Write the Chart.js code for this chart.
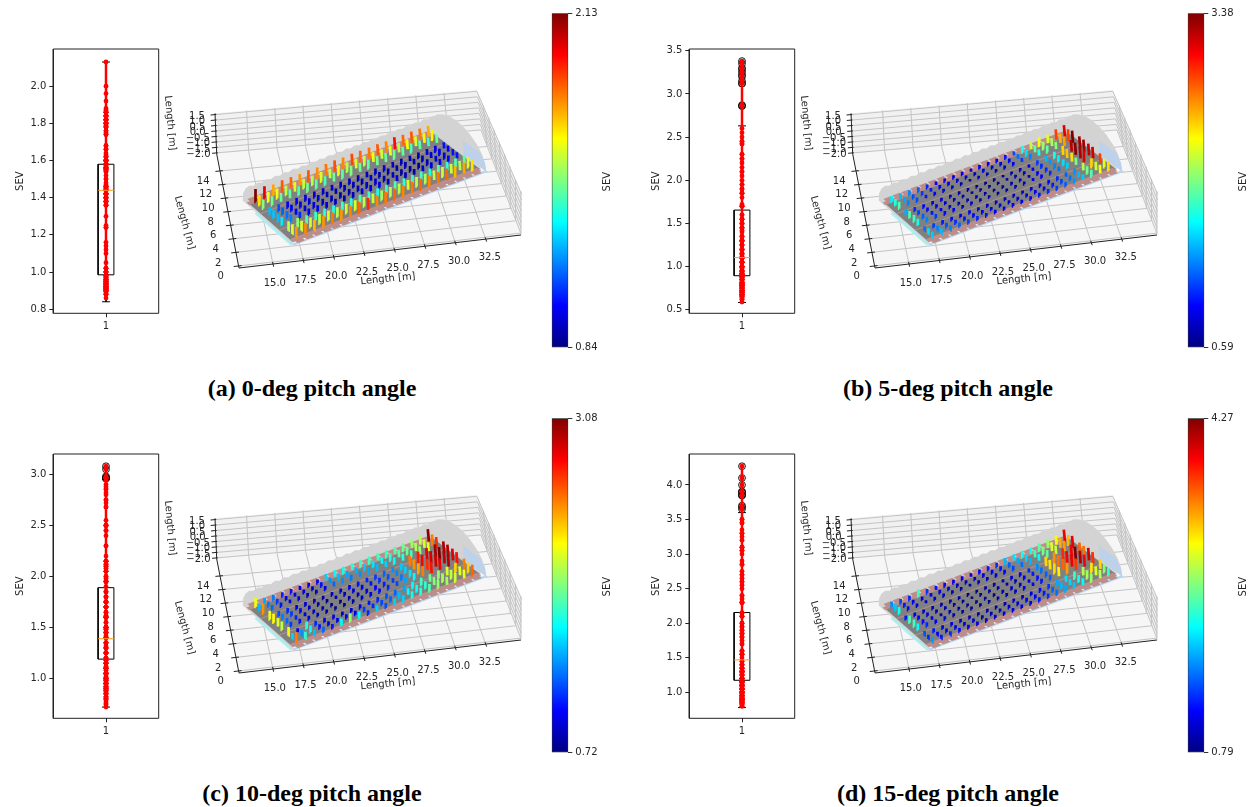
<!DOCTYPE html>
<html>
<head>
<meta charset="utf-8">
<title>SEV by pitch angle</title>
<script src="https://cdn.jsdelivr.net/npm/chart.js@4/dist/chart.umd.js"></script>
<style>
  html, body { margin: 0; background: #fff; }
  #page { position: relative; width: 1250px; height: 807px; overflow: hidden; }
  canvas { position: absolute; filter: blur(0.45px); }
  .caption { position: absolute; width: 400px; text-align: center; font: bold 24px "Liberation Serif", serif; line-height: 28px; color: #000; }
</style>
</head>
<body>
<div id="page"></div>
<script>
  // seat SEV values, row 0 = back row, 21 seat columns each
  const sevA = [
    [2.13,2.00,1.76,1.86,1.84,1.78,1.86,1.79,1.82,1.87,1.80,1.88,1.84,1.82,1.86,1.80,1.96,1.84,1.86,1.82,1.75],
    [1.68,1.63,1.62,1.56,1.60,1.58,1.55,1.60,1.57,1.62,1.55,1.60,1.57,1.62,1.58,1.62,1.55,1.64,1.60,1.66,1.66],
    [1.50,1.46,1.45,1.44,1.42,1.46,1.44,1.42,1.46,1.44,1.48,1.46,1.44,1.47,1.45,1.46,1.44,1.42,1.44,1.40,1.46],
    [1.24,1.10,0.98,1.00,0.97,0.95,0.93,0.94,0.93,0.92,0.90,0.92,0.93,0.94,0.93,0.92,0.90,0.91,0.94,0.97,1.02],
    [1.25,1.12,1.00,0.97,0.94,0.93,0.91,0.90,0.92,0.90,0.91,0.92,0.90,0.91,0.89,0.90,0.91,0.92,0.95,0.98,1.00],
    [1.24,1.14,1.00,0.95,0.96,0.94,0.90,0.88,0.90,0.91,0.94,0.95,0.90,0.93,0.88,0.86,0.88,0.91,0.94,0.96,1.02],
    [1.30,1.16,1.05,1.00,0.98,0.95,0.92,0.90,0.92,0.96,0.98,0.96,0.93,0.96,0.92,0.90,0.94,0.95,0.98,1.00,1.02],
    [1.56,1.50,1.42,1.40,1.38,1.36,1.40,1.38,1.42,1.40,1.36,1.38,1.42,1.38,1.40,1.40,1.36,1.42,1.38,1.42,1.44],
    [1.60,1.60,1.58,1.56,1.60,1.55,1.58,1.60,1.56,1.58,1.52,1.55,1.56,1.60,1.56,1.54,1.56,1.58,1.58,1.54,1.60],
    [1.78,1.80,1.74,1.78,1.82,1.78,1.80,1.84,1.92,1.80,1.82,1.84,1.80,1.82,1.84,1.80,1.82,1.84,1.74,1.76,1.68]
  ];
  const sevB = [
    [1.60,1.45,1.30,1.20,1.05,0.95,0.88,0.85,0.90,0.85,0.92,0.85,0.90,1.00,1.15,1.70,2.15,2.30,2.25,2.86,3.12],
    [1.72,1.40,1.15,1.10,1.00,0.92,0.85,0.78,0.80,0.75,0.82,0.78,0.88,0.95,1.25,1.55,1.90,2.05,2.10,2.55,2.86],
    [1.85,1.30,1.15,1.00,0.90,0.80,0.78,0.72,0.70,0.72,0.70,0.72,0.80,0.90,1.10,1.30,1.70,1.90,2.00,2.60,3.38],
    [1.42,1.05,0.92,0.85,0.80,0.74,0.72,0.70,0.66,0.62,0.64,0.66,0.72,0.78,0.90,1.10,1.45,1.70,2.45,3.22,3.30],
    [1.85,1.10,0.95,0.85,0.78,0.72,0.72,0.68,0.66,0.59,0.62,0.68,0.70,0.76,0.88,1.05,1.35,1.60,2.50,3.35,3.28],
    [1.80,1.20,1.00,0.90,0.80,0.76,0.72,0.68,0.66,0.64,0.66,0.70,0.72,0.78,0.90,1.05,1.30,1.55,2.42,3.25,3.20],
    [1.70,1.30,1.10,0.95,0.85,0.78,0.76,0.72,0.68,0.66,0.68,0.72,0.75,0.82,0.92,1.05,1.25,1.50,1.95,3.12,3.15],
    [1.25,1.10,1.00,0.95,0.88,0.85,0.80,0.78,0.74,0.72,0.74,0.76,0.80,0.85,0.95,1.05,1.20,1.35,2.10,2.45,2.87],
    [1.55,1.30,1.15,1.05,0.98,0.92,0.88,0.82,0.80,0.78,0.80,0.82,0.88,0.92,1.00,1.12,1.25,1.45,1.95,2.20,2.25],
    [1.50,1.45,1.30,1.20,1.10,1.05,1.00,0.92,0.90,0.88,0.90,0.95,1.00,1.05,1.10,1.20,1.35,1.50,1.85,2.30,2.42]
  ];
  const sevC = [
    [2.15,1.40,1.30,1.10,1.05,1.00,0.95,0.95,1.50,1.60,1.65,1.70,1.75,1.75,1.75,1.75,1.80,1.85,1.95,2.05,3.05],
    [1.45,1.30,1.15,1.00,0.98,0.92,0.90,1.05,1.35,1.45,1.40,1.42,1.48,1.55,1.60,1.70,1.80,1.85,2.00,2.10,2.50],
    [2.45,1.25,1.05,0.95,0.92,0.88,0.85,0.95,1.25,1.35,1.30,1.35,1.40,1.45,1.50,1.60,1.70,1.75,1.95,2.15,2.68],
    [2.15,1.20,1.10,0.98,0.90,0.85,0.82,0.86,0.90,0.98,1.05,1.10,1.15,1.25,1.35,1.48,2.50,2.72,2.85,2.98,2.97],
    [2.20,1.30,1.15,1.00,0.88,0.82,0.78,0.80,0.85,0.92,1.00,1.05,1.12,1.20,1.32,1.50,2.45,2.80,2.88,3.08,2.96],
    [2.12,1.25,1.10,0.95,0.85,0.80,0.76,0.75,0.80,0.88,0.95,1.00,1.08,1.15,1.30,1.55,2.40,2.68,2.90,2.94,2.86],
    [2.05,1.15,1.05,0.92,0.85,0.80,0.74,0.72,0.82,0.90,0.95,1.02,1.10,1.18,1.40,1.60,2.50,2.75,2.82,2.96,2.75],
    [2.15,1.00,1.70,1.10,0.98,0.95,0.88,0.90,1.00,1.05,1.10,1.20,1.25,1.40,1.60,1.75,1.85,1.95,2.10,2.30,2.50],
    [1.50,1.35,1.60,1.05,0.95,0.92,1.00,1.00,1.15,1.10,1.18,1.25,1.45,1.60,1.62,1.70,1.90,2.00,2.05,2.12,2.30],
    [2.50,1.70,1.45,1.25,1.05,1.60,1.95,1.60,1.10,1.50,1.20,1.50,1.50,1.65,1.70,1.80,1.95,1.98,2.08,2.15,2.55]
  ];
  const sevD = [
    [1.70,1.45,1.35,2.30,1.40,1.30,1.25,1.15,1.20,1.10,1.25,1.30,1.40,1.85,2.00,2.15,2.15,2.40,2.60,2.90,3.90],
    [1.90,1.30,1.20,1.15,1.20,1.10,1.05,0.98,0.95,1.00,1.10,1.20,1.30,1.55,1.80,1.95,2.30,2.50,2.85,3.25,3.20],
    [2.15,1.25,1.05,1.00,1.05,1.00,0.95,0.90,0.90,0.95,1.00,1.10,1.20,1.45,1.60,1.85,2.10,2.40,2.75,3.30,3.90],
    [1.30,1.15,1.00,0.98,0.95,0.90,0.86,0.82,0.85,0.88,0.92,1.00,1.05,1.15,1.35,1.70,3.10,3.35,3.70,3.85,3.50],
    [2.35,1.20,1.05,0.95,0.92,0.88,0.84,0.80,0.80,0.86,0.90,0.96,1.02,1.12,1.30,1.60,3.05,3.45,3.85,4.27,3.45],
    [2.30,1.25,1.10,1.00,0.92,0.88,0.85,0.82,0.84,0.85,0.92,1.00,1.05,1.12,1.28,1.55,3.10,3.50,3.90,4.10,4.00],
    [2.10,1.35,1.15,1.05,0.95,0.90,0.88,0.85,0.86,0.88,0.95,1.00,1.08,1.15,1.30,1.55,3.00,3.30,3.65,3.85,3.68],
    [1.50,1.30,1.10,1.05,1.00,0.95,0.90,0.92,0.90,0.95,1.00,1.05,1.10,1.25,1.40,1.80,2.00,2.30,2.70,3.05,3.10],
    [1.35,1.20,1.15,1.10,1.05,1.00,0.95,0.98,1.00,1.05,1.05,1.15,1.20,1.30,1.55,1.85,1.95,2.15,2.65,2.85,2.55],
    [1.75,1.30,1.35,1.25,1.15,1.10,1.05,1.05,1.05,1.10,1.15,1.20,1.30,1.40,1.60,1.80,1.90,2.10,2.60,2.70,2.30]
  ];
  const sevAll = [sevA, sevB, sevC, sevD];

  const captions = ['(a) 0-deg pitch angle', '(b) 5-deg pitch angle', '(c) 10-deg pitch angle', '(d) 15-deg pitch angle'];

  // box plot numbers
  const whiskerLow = [0.84, 0.585, 0.72, 0.78];
  const quart1 = [0.985, 0.895, 1.19, 1.175];
  const medians = [1.44, 1.105, 1.39, 1.47];
  const quart3 = [1.58, 1.655, 1.89, 2.155];
  const whiskerHigh = [2.13, 2.63, 2.95, 3.6];
  const boxYMin = [0.778, 0.46, 0.61, 0.625];
  const boxYMax = [2.2, 3.52, 3.2, 4.447];
  const boxTicks = [
    [0.8, 1.0, 1.2, 1.4, 1.6, 1.8, 2.0],
    [0.5, 1.0, 1.5, 2.0, 2.5, 3.0, 3.5],
    [1.0, 1.5, 2.0, 2.5, 3.0],
    [1.0, 1.5, 2.0, 2.5, 3.0, 3.5, 4.0]
  ];

  const barMin = [0.84, 0.59, 0.72, 0.79];
  const barMax = [2.13, 3.38, 3.08, 4.27];
  const barHeightScale = [0.55, 0.33, 0.37, 0.28];

  // 3d axes
  const xTicks3d = [15.0, 17.5, 20.0, 22.5, 25.0, 27.5, 30.0, 32.5];
  const yTicks3d = [0, 2, 4, 6, 8, 10, 12, 14];
  const zTicks3d = [-2.0, -1.5, -1.0, -0.5, 0.0, 0.5, 1.0, 1.5];
  const seatColumns = [0,0.89,1.77,2.66,3.54,4.43,5.31,6.2,7.08,7.97,8.85,9.74,10.62,11.51,12.39,13.28,14.16,15.05,15.93,16.82,17.7];
  const seatRows = [0,0.6,1.2,2.25,2.85,3.55,4.15,5.2,5.8,6.4];
  const ringStations = [-0.8,0.05,0.9,1.8,2.7,3.6,4.5,5.4,6.3,7.2,8.1,9,9.9,10.8,11.7,12.6,13.5,14.4,15.3,16.2,17.1,18,18.5];
  const ringAcross = [-0.8,-0.7,-0.3,0.3,1.2,2.2,3.2,4.2,5.2,6.1,6.7,7.1,7.2];
  const ringHeight = [0,0.7,1.35,1.9,2.35,2.65,2.75,2.65,2.35,1.9,1.35,0.7,0];

  // scene geometry, page pixels of panel (a)
  const X0 = 12.2, X1 = 35.4, Y0 = -0.3, Y1 = 16.5, Z0 = -2.1, Z1 = 1.62;
  const floorPx = [[239, 268], [521, 235], [216.7, 154], [481, 131]];
  const ceilPx = [[240, 227], [521.7, 193], [215, 113.3], [476.7, 90]];
  const cabinOrigin = [14.68, 9.02], cabinAlong = [0.9106, 0.4135], cabinAcross = [0.419, -0.908];
  const panelDx = [0, 636, 0, 636], panelDy = [0, 0, 405, 405];

  Chart.defaults.animation = false;
  Chart.defaults.font.family = '"DejaVu Sans", sans-serif';
  Chart.defaults.font.size = 10;
  Chart.defaults.color = '#262626';

  const page = document.getElementById('page');

  function addCanvas(left, top, w, h) {
    const c = document.createElement('canvas');
    c.width = w; c.height = h;
    c.style.left = left + 'px'; c.style.top = top + 'px';
    c.style.width = w + 'px'; c.style.height = h + 'px';
    page.appendChild(c);
    return c;
  }

  function jet(t) {
    const f = k => Math.round(255 * Math.max(0, Math.min(1, 1.5 - Math.abs(4 * t - k))));
    return 'rgb(' + f(3) + ',' + f(2) + ',' + f(1) + ')';
  }

  function project(x, y, z) {
    const u = (x - X0) / (X1 - X0), v = (y - Y0) / (Y1 - Y0), t = (z - Z0) / (Z1 - Z0);
    const bil = (c, k) => (1 - v) * ((1 - u) * c[0][k] + u * c[1][k]) + v * ((1 - u) * c[2][k] + u * c[3][k]);
    const fx = bil(floorPx, 0), fy = bil(floorPx, 1);
    return { x: fx + t * (bil(ceilPx, 0) - fx), y: fy + t * (bil(ceilPx, 1) - fy) };
  }

  function cabin(s, r, h) {
    return project(cabinOrigin[0] + s * cabinAlong[0] + r * cabinAcross[0],
                   cabinOrigin[1] + s * cabinAlong[1] + r * cabinAcross[1], Z0 + h);
  }

  function textPlugin(items) {
    return {
      id: 'textItems',
      afterDatasetsDraw(chart) {
        const ctx = chart.ctx;
        ctx.save();
        ctx.fillStyle = '#262626';
        ctx.textAlign = 'center';
        ctx.textBaseline = 'middle';
        ctx.font = '10px "DejaVu Sans", sans-serif';
        for (const t of items) {
          ctx.save();
          ctx.translate(t.x, t.y);
          ctx.rotate((t.rot || 0) * Math.PI / 180);
          ctx.fillText(t.text, 0, 0);
          ctx.restore();
        }
        ctx.restore();
      }
    };
  }

  function drawBox(i) {
    const vals = sevAll[i].flat();
    const datasets = [];
    let n = 0;
    const add = d => { d.order = -(n++); datasets.push(d); };
    const line = (data, color, w) => add({ data, showLine: true, borderColor: color, borderWidth: w, pointRadius: 0, clip: false });
    line([{ x: 0.5, y: boxYMin[i] }, { x: 1.5, y: boxYMin[i] }, { x: 1.5, y: boxYMax[i] }, { x: 0.5, y: boxYMax[i] }, { x: 0.5, y: boxYMin[i] }], '#222', 1);
    line([{ x: 0.925, y: quart1[i] }, { x: 1.075, y: quart1[i] }, { x: 1.075, y: quart3[i] }, { x: 0.925, y: quart3[i] }, { x: 0.925, y: quart1[i] }], '#000', 1);
    line([{ x: 1, y: quart3[i] }, { x: 1, y: whiskerHigh[i] }], '#000', 1);
    line([{ x: 1, y: quart1[i] }, { x: 1, y: whiskerLow[i] }], '#000', 1);
    line([{ x: 0.9625, y: whiskerHigh[i] }, { x: 1.0375, y: whiskerHigh[i] }], '#000', 1);
    line([{ x: 0.9625, y: whiskerLow[i] }, { x: 1.0375, y: whiskerLow[i] }], '#000', 1);
    add({ data: vals.filter(v => v > whiskerHigh[i]).map(v => ({ x: 1, y: v })), pointRadius: 3.4, pointBorderColor: '#111', pointBackgroundColor: 'rgba(0,0,0,0)', pointBorderWidth: 1 });
    line([{ x: 1, y: Math.min(...vals) }, { x: 1, y: Math.max(...vals) }], '#f00', 2.5);
    add({ data: vals.map(v => ({ x: 1, y: v })), pointRadius: 2.4, pointBackgroundColor: '#f00', pointBorderWidth: 0 });
    line([{ x: 0.925, y: medians[i] }, { x: 1.075, y: medians[i] }], '#ff9a1f', 1);

    new Chart(addCanvas(panelDx[i], 40 + panelDy[i], 165, 300), {
      type: 'scatter',
      data: { datasets },
      options: {
        responsive: false,
        events: [],
        layout: { padding: { top: 8.3, right: 6.3, left: 0, bottom: 0 } },
        plugins: { legend: { display: false }, tooltip: { enabled: false } },
        scales: {
          x: {
            type: 'linear', min: 0.5, max: 1.5,
            afterBuildTicks: s => { s.ticks = [{ value: 1 }]; },
            afterFit: s => { s.height = 26.7; },
            ticks: { callback: v => String(v), maxRotation: 0, padding: 3 },
            grid: { drawOnChartArea: false, tickLength: 4, tickColor: '#222' },
            border: { display: false }
          },
          y: {
            type: 'linear', min: boxYMin[i], max: boxYMax[i],
            afterBuildTicks: s => { s.ticks = boxTicks[i].map(value => ({ value })); },
            afterFit: s => { s.width = 53.3; },
            ticks: { callback: v => v.toFixed(1), padding: 3 },
            grid: { drawOnChartArea: false, tickLength: 4, tickColor: '#222' },
            border: { display: false },
            title: { display: true, text: 'SEV', color: '#262626', padding: { top: 14, bottom: 0 }, font: { size: 10 } }
          }
        }
      }
    });
  }

  function drawScene(i) {
    const datasets = [];
    let n = 0;
    const add = d => { d.order = -(n++); datasets.push(d); };
    const seg = (pts, color, w) => add({ data: pts, showLine: true, borderColor: color, borderWidth: w, pointRadius: 0, fill: false, borderCapStyle: 'butt' });
    const poly = (pts, color) => add({ data: pts, showLine: true, borderColor: 'rgba(0,0,0,0)', borderWidth: 0, pointRadius: 0, fill: 'shape', backgroundColor: color });

    // panes
    poly([project(X0, Y0, Z0), project(X1, Y0, Z0), project(X1, Y1, Z0), project(X0, Y1, Z0)], '#f6f6f6');
    poly([project(X0, Y1, Z0), project(X1, Y1, Z0), project(X1, Y1, Z1), project(X0, Y1, Z1)], '#f1f1f1');
    poly([project(X1, Y1, Z0), project(X1, Y0, Z0), project(X1, Y0, Z1), project(X1, Y1, Z1)], '#efefef');

    // grid lines, then axis lines with ticks
    const gridCol = '#c4c4c4';
    for (const x of xTicks3d) seg([project(x, Y0, Z0), project(x, Y1, Z0), project(x, Y1, Z1)], gridCol, 1);
    for (const y of yTicks3d) seg([project(X0, y, Z0), project(X1, y, Z0), project(X1, y, Z1)], gridCol, 1);
    for (const z of zTicks3d) seg([project(X0, Y1, z), project(X1, Y1, z), project(X1, Y0, z)], gridCol, 1);
    seg([project(X0, Y1, Z1), project(X0, Y1, Z0), project(X0, Y0, Z0), project(X1, Y0, Z0)], '#222', 1);
    for (const x of xTicks3d) seg([project(x, Y0 + 0.3, Z0), project(x, Y0 - 0.4, Z0)], '#222', 1);
    for (const y of yTicks3d) seg([project(X0 + 0.25, y, Z0), project(X0 - 0.4, y, Z0)], '#222', 1);
    for (const z of zTicks3d) seg([project(X0 + 0.1, Y1, z), project(X0 - 0.4, Y1, z)], '#222', 1);

    // cabin shell
    for (const s of ringStations) {
      poly(ringAcross.map((r, k) => cabin(s, r, ringHeight[k])), '#d3d3d3');
    }
    poly([cabin(-1, 1.4, 0), cabin(-0.75, 1.4, 0), cabin(-0.75, 7.1, 0), cabin(-1, 7.1, 0)], '#abeef2');
    poly([cabin(-0.8, 7.0, 0), cabin(18.6, 7.0, 0), cabin(18.6, 7.32, 0), cabin(-0.8, 7.32, 0)], '#b8d8f2');
    poly([cabin(18.5, 4, 0), cabin(18.5, 7.2, 0), cabin(18.5, 7.1, 0.7), cabin(18.5, 6.4, 1.3), cabin(18.5, 4, 1.3)], '#bdd1ea');

    // floor band and seat blocks
    poly([cabin(-0.6, -0.2, 0), cabin(18.3, -0.2, 0), cabin(18.3, 6.6, 0), cabin(-0.6, 6.6, 0)], '#808080');
    seg([cabin(-0.6, 1.72, 0), cabin(18.3, 1.72, 0)], '#c39a94', 0.7);
    seg([cabin(-0.6, 4.68, 0), cabin(18.3, 4.68, 0)], '#c39a94', 0.7);
    poly([cabin(-0.7, -0.35, 0), cabin(18.2, -0.35, 0), cabin(18.2, 0.1, 0), cabin(-0.7, 0.1, 0)], '#bd8d89');
    poly([cabin(-0.6, 6.3, 0), cabin(18.2, 6.3, 0), cabin(18.2, 6.85, 0), cabin(-0.6, 6.85, 0)], '#bd8d89');
    for (const s of seatColumns) {
      poly([cabin(s - 0.36, -0.75, 0), cabin(s + 0.36, -0.75, 0), cabin(s + 0.36, -0.2, 0), cabin(s - 0.36, -0.2, 0)], '#bd8d89');
      poly([cabin(s - 0.36, 6.7, 0), cabin(s + 0.36, 6.7, 0), cabin(s + 0.36, 7.2, 0), cabin(s - 0.36, 7.2, 0)], '#bd8d89');
    }

    // SEV bars, far seats first
    const sev = sevAll[i];
    for (let r = 0; r < seatRows.length; r++) {
      for (let c = seatColumns.length - 1; c >= 0; c--) {
        const v = sev[r][c];
        const t = (v - barMin[i]) / (barMax[i] - barMin[i]);
        seg([cabin(seatColumns[c], seatRows[r], 0), cabin(seatColumns[c], seatRows[r], v * barHeightScale[i])], jet(t), 2.7);
      }
    }

    // texts in canvas pixels
    const ox = 160, oy = 75;
    const items = [];
    const put = (p, text, rot) => items.push({ x: p.x - ox, y: p.y - oy, text, rot });
    for (const x of xTicks3d) put(project(x - 0.2, Y0 - 2.9, Z0), x.toFixed(1));
    for (const y of yTicks3d) put(project(X0 - 1.6, y - 1.25, Z0), String(y));
    for (const z of zTicks3d) put(project(X0 - 1.6, Y1, z), z.toFixed(1).replace('-', '\u2212'));
    items.push({ x: 388 - ox, y: 279 - oy, text: 'Length [m]', rot: -5.5 });
    items.push({ x: 184.3 - ox, y: 222.7 - oy, text: 'Length [m]', rot: 75 });
    items.push({ x: 170 - ox, y: 123 - oy, text: 'Length [m]', rot: 85 });

    new Chart(addCanvas(ox + panelDx[i], oy + panelDy[i], 370, 230), {
      type: 'scatter',
      data: { datasets },
      plugins: [textPlugin(items)],
      options: {
        responsive: false,
        events: [],
        parsing: false,
        normalized: false,
        layout: { padding: 0 },
        plugins: { legend: { display: false }, tooltip: { enabled: false } },
        scales: {
          x: { type: 'linear', display: false, min: ox, max: ox + 370 },
          y: { type: 'linear', display: false, min: oy, max: oy + 230, reverse: true }
        }
      }
    });
  }

  function drawColorbar(i) {
    new Chart(addCanvas(530 + panelDx[i], panelDy[i], 100, 360), {
      type: 'bar',
      data: {
        labels: ['SEV'],
        datasets: [{
          data: [[barMin[i], barMax[i]]],
          barPercentage: 1,
          categoryPercentage: 1,
          borderColor: '#333',
          borderWidth: 1,
          borderSkipped: false,
          backgroundColor: c => {
            const a = c.chart.chartArea;
            if (!a) return '#000';
            const g = c.chart.ctx.createLinearGradient(0, a.bottom, 0, a.top);
            for (let k = 0; k <= 32; k++) g.addColorStop(k / 32, jet(k / 32));
            return g;
          }
        }]
      },
      plugins: [textPlugin([{ x: 77.5, y: 181.7, text: 'SEV', rot: -90 }])],
      options: {
        responsive: false,
        events: [],
        layout: { padding: { left: 21.7, top: 13.3, bottom: 12.5, right: 0 } },
        plugins: { legend: { display: false }, tooltip: { enabled: false } },
        scales: {
          x: { display: false },
          y: {
            position: 'right',
            type: 'linear', min: barMin[i], max: barMax[i],
            afterBuildTicks: s => { s.ticks = [{ value: barMin[i] }, { value: barMax[i] }]; },
            afterFit: s => { s.width = 61.7; },
            ticks: { callback: v => v.toFixed(2), padding: 3 },
            grid: { drawOnChartArea: false, tickLength: 4, tickColor: '#333' },
            border: { display: false }
          }
        }
      }
    });
  }

  captions.forEach((text, i) => {
    const d = document.createElement('div');
    d.className = 'caption';
    d.textContent = text;
    d.style.left = (112 + panelDx[i]) + 'px';
    d.style.top = (374 + panelDy[i]) + 'px';
    page.appendChild(d);
  });

  for (let i = 0; i < 4; i++) {
    drawScene(i);
    drawBox(i);
    drawColorbar(i);
  }
</script>
</body>
</html>
